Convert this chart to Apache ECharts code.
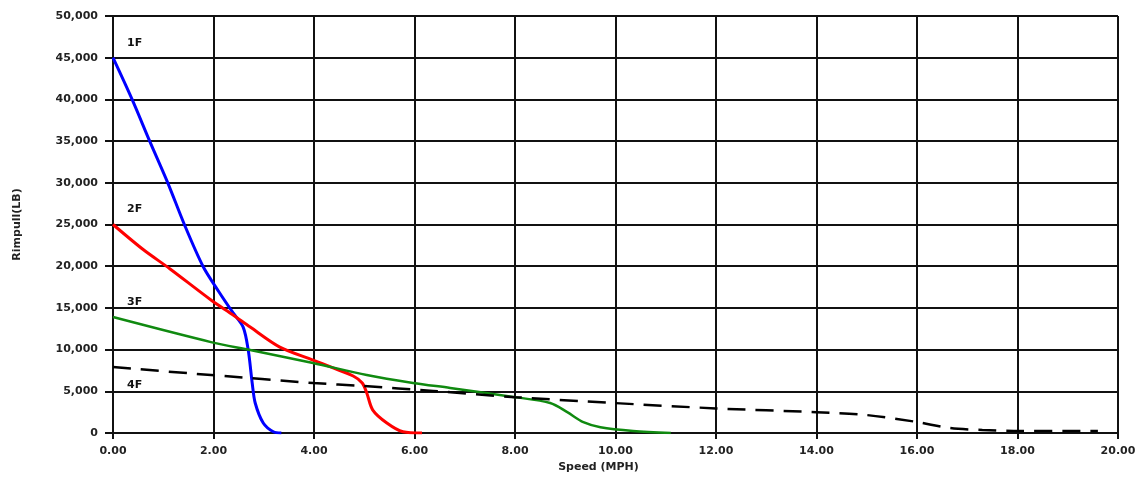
<!DOCTYPE html>
<html>
<head>
<meta charset="utf-8">
<script src="https://cdn.jsdelivr.net/npm/echarts@6/dist/echarts.min.js"></script>
<style>
  html, body { margin: 0; padding: 0; background: #fff; }
  #chart { width: 1142px; height: 482px; }
</style>
</head>
<body>
<div id="chart"></div>
<script>
// rimpull (lb) vs speed (mph), one curve per forward gear
const gear1 = [[0, 45000], [0.38, 40000], [0.73, 35000], [1.09, 30000], [1.42, 25000], [1.79, 20000],
  [2.1, 17000], [2.39, 14400], [2.59, 12700], [2.69, 10000], [2.77, 6000], [2.83, 3600],
  [2.99, 1200], [3.19, 150], [3.35, 0]]
const gear2 = [[0, 25000], [0.6, 22000], [1.13, 19700], [1.95, 15950], [2.39, 14150], [2.73, 12700],
  [3.32, 10300], [3.98, 8750], [4.38, 7800], [4.78, 6830], [4.96, 6000], [5.05, 4800],
  [5.17, 2750], [5.45, 1200], [5.77, 150], [6.15, 0]]
const gear3 = [[0, 13900], [1.95, 10900], [2.73, 9950], [3.98, 8400], [5.05, 6950], [5.97, 6000],
  [6.71, 5400], [8.0, 4300], [8.7, 3600], [9.04, 2500], [9.36, 1300], [9.7, 700],
  [10.35, 250], [11.1, 0]]
const gear4 = [[0, 7900], [1.95, 6950], [3.98, 6000], [4.98, 5640], [6.37, 5040], [8.0, 4300],
  [9.95, 3600], [12.0, 2950], [14.0, 2500], [15.0, 2150], [16.0, 1320], [16.65, 600],
  [17.3, 360], [18.05, 240], [19.6, 240]]
const gearNames = ['1F', '2F', '3F', '4F']
const gearColors = ['#0000ff', '#ff0000', '#108a10', '#000000']

const chart = echarts.init(document.getElementById('chart'))

const labelFont = { fontFamily: 'DejaVu Sans', fontSize: 11, fontWeight: 'bold', color: '#222' }

const makeSeries = (data, i, extra) => ({
  name: gearNames[i],
  type: 'line',
  data: data,
  smooth: 0.3,
  showSymbol: false,
  lineStyle: Object.assign({ color: gearColors[i], width: 3 }, extra || {}),
  itemStyle: { color: gearColors[i] },
  markPoint: {
    symbol: 'circle',
    symbolSize: 0,
    data: [{
      coord: data[0],
      label: {
        show: true,
        formatter: gearNames[i],
        position: 'right',
        offset: i === 3 ? [9, 18] : [9, -15],
        fontFamily: 'DejaVu Sans',
        fontSize: 11,
        fontWeight: 'bold',
        color: '#111'
      }
    }]
  }
})

const option = {
  animation: false,
  grid: { left: 113, right: 24, top: 16, bottom: 49 },
  xAxis: {
    type: 'value',
    min: 0,
    max: 20,
    interval: 2,
    name: 'Speed (MPH)',
    nameLocation: 'middle',
    nameGap: 29,
    nameTextStyle: { fontFamily: 'DejaVu Sans', fontSize: 11, fontWeight: 'bold', color: '#222', padding: [0, 34, 0, 0] },
    axisLine: { lineStyle: { color: '#111', width: 2 } },
    axisTick: { show: true, length: 6, lineStyle: { color: '#111', width: 2 } },
    axisLabel: Object.assign({ formatter: v => v.toFixed(2), margin: 13 }, labelFont),
    splitLine: { show: true, lineStyle: { color: '#111', width: 2 } }
  },
  yAxis: {
    type: 'value',
    min: 0,
    max: 50000,
    interval: 5000,
    name: 'Rimpull(LB)',
    nameLocation: 'middle',
    nameRotate: 90,
    nameGap: 90,
    nameTextStyle: { fontFamily: 'DejaVu Sans', fontSize: 11, fontWeight: 'bold', color: '#222' },
    axisLine: { show: true, lineStyle: { color: '#111', width: 2 } },
    axisTick: { show: true, length: 8, lineStyle: { color: '#111', width: 2 } },
    axisLabel: Object.assign({ formatter: v => v.toLocaleString('en-US'), margin: 15 }, labelFont),
    splitLine: { show: true, lineStyle: { color: '#111', width: 2 } }
  },
  series: [
    makeSeries(gear1, 0),
    makeSeries(gear2, 1),
    makeSeries(gear3, 2, { width: 2.5 }),
    makeSeries(gear4, 3, { width: 2.5, type: [18, 10] })
  ]
}

chart.setOption(option)
</script>
</body>
</html>
